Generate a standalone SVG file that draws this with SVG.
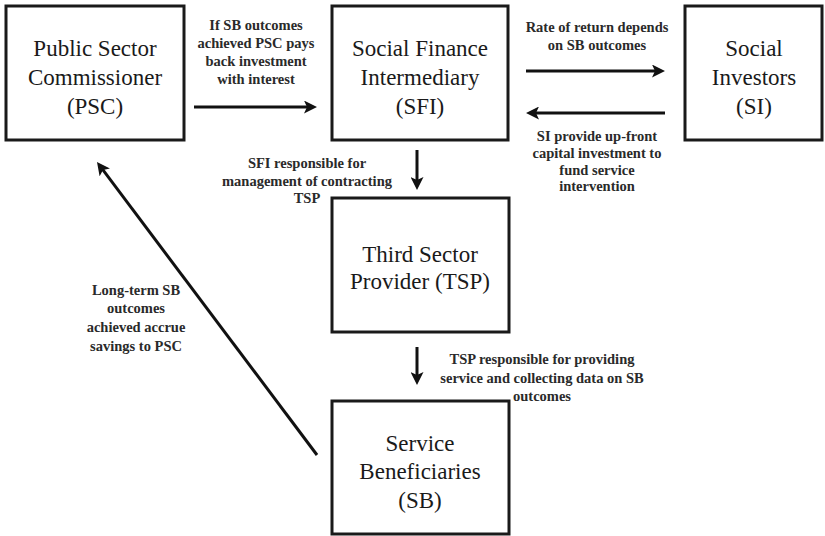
<svg xmlns="http://www.w3.org/2000/svg" width="825" height="536" viewBox="0 0 825 536">
<style>
.box{fill:#fff;stroke:#1a1a1a;stroke-width:3}
.nt{font-family:"Liberation Serif","Times New Roman",serif;font-size:23px;fill:#1a1a1a;text-anchor:middle}
.lb{font-family:"Liberation Serif","Times New Roman",serif;font-size:14.5px;font-weight:bold;fill:#2a2a2a;text-anchor:middle}
.ar{stroke:#111;stroke-width:3;fill:none;marker-end:url(#ah)}
</style>
<defs>
<marker id="ah" markerUnits="userSpaceOnUse" markerWidth="14" markerHeight="13" refX="5" refY="6.5" orient="auto">
<path d="M0,0 L13,6.5 L0,13 L3,6.5 z" fill="#111"/>
</marker>
</defs>
<rect width="825" height="536" fill="#fff"/>
<g id="psc">
<rect class="box" x="6" y="6" width="178" height="134"/>
<text class="nt" x="95" y="56">Public Sector</text>
<text class="nt" x="95" y="85">Commissioner</text>
<text class="nt" x="95" y="114">(PSC)</text>
</g>
<g id="sfi">
<rect class="box" x="332" y="6" width="176" height="134"/>
<text class="nt" x="420" y="56">Social Finance</text>
<text class="nt" x="420" y="85">Intermediary</text>
<text class="nt" x="420" y="114">(SFI)</text>
</g>
<g id="si">
<rect class="box" x="685" y="6" width="137" height="134"/>
<text class="nt" x="754" y="56">Social</text>
<text class="nt" x="754" y="85">Investors</text>
<text class="nt" x="754" y="114">(SI)</text>
</g>
<g id="tsp">
<rect class="box" x="332" y="198" width="177" height="134"/>
<text class="nt" x="420" y="262">Third Sector</text>
<text class="nt" x="420" y="289">Provider (TSP)</text>
</g>
<g id="sb">
<rect class="box" x="332" y="401" width="177" height="133"/>
<text class="nt" x="420" y="451">Service</text>
<text class="nt" x="420" y="479">Beneficiaries</text>
<text class="nt" x="420" y="508">(SB)</text>
</g>
<g id="connectors">
<line class="ar" x1="194" y1="107" x2="309" y2="107"/>
<line class="ar" x1="526" y1="71" x2="657" y2="71"/>
<line class="ar" x1="665" y1="113" x2="534" y2="113"/>
<line class="ar" x1="417" y1="150" x2="417" y2="182"/>
<line class="ar" x1="417" y1="347" x2="417" y2="377"/>
<line class="ar" x1="317" y1="455" x2="101.8" y2="168.4"/>
</g>
<g id="labels">
<text class="lb" x="256" y="30">If SB outcomes</text>
<text class="lb" x="256" y="48">achieved PSC pays</text>
<text class="lb" x="256" y="66">back investment</text>
<text class="lb" x="256" y="84">with interest</text>
<text class="lb" x="597" y="32">Rate of return depends</text>
<text class="lb" x="597" y="50">on SB outcomes</text>
<text class="lb" x="597" y="141">SI provide up-front</text>
<text class="lb" x="597" y="158">capital investment to</text>
<text class="lb" x="597" y="175">fund service</text>
<text class="lb" x="597" y="191">intervention</text>
<text class="lb" x="307" y="168">SFI responsible for</text>
<text class="lb" x="307" y="186">management of contracting</text>
<text class="lb" x="307" y="203">TSP</text>
<text class="lb" x="136" y="295">Long-term SB</text>
<text class="lb" x="136" y="313">outcomes</text>
<text class="lb" x="136" y="332">achieved accrue</text>
<text class="lb" x="136" y="351">savings to PSC</text>
<text class="lb" x="542" y="364">TSP responsible for providing</text>
<text class="lb" x="542" y="383">service and collecting data on SB</text>
<text class="lb" x="542" y="401">outcomes</text>
</g>
</svg>
